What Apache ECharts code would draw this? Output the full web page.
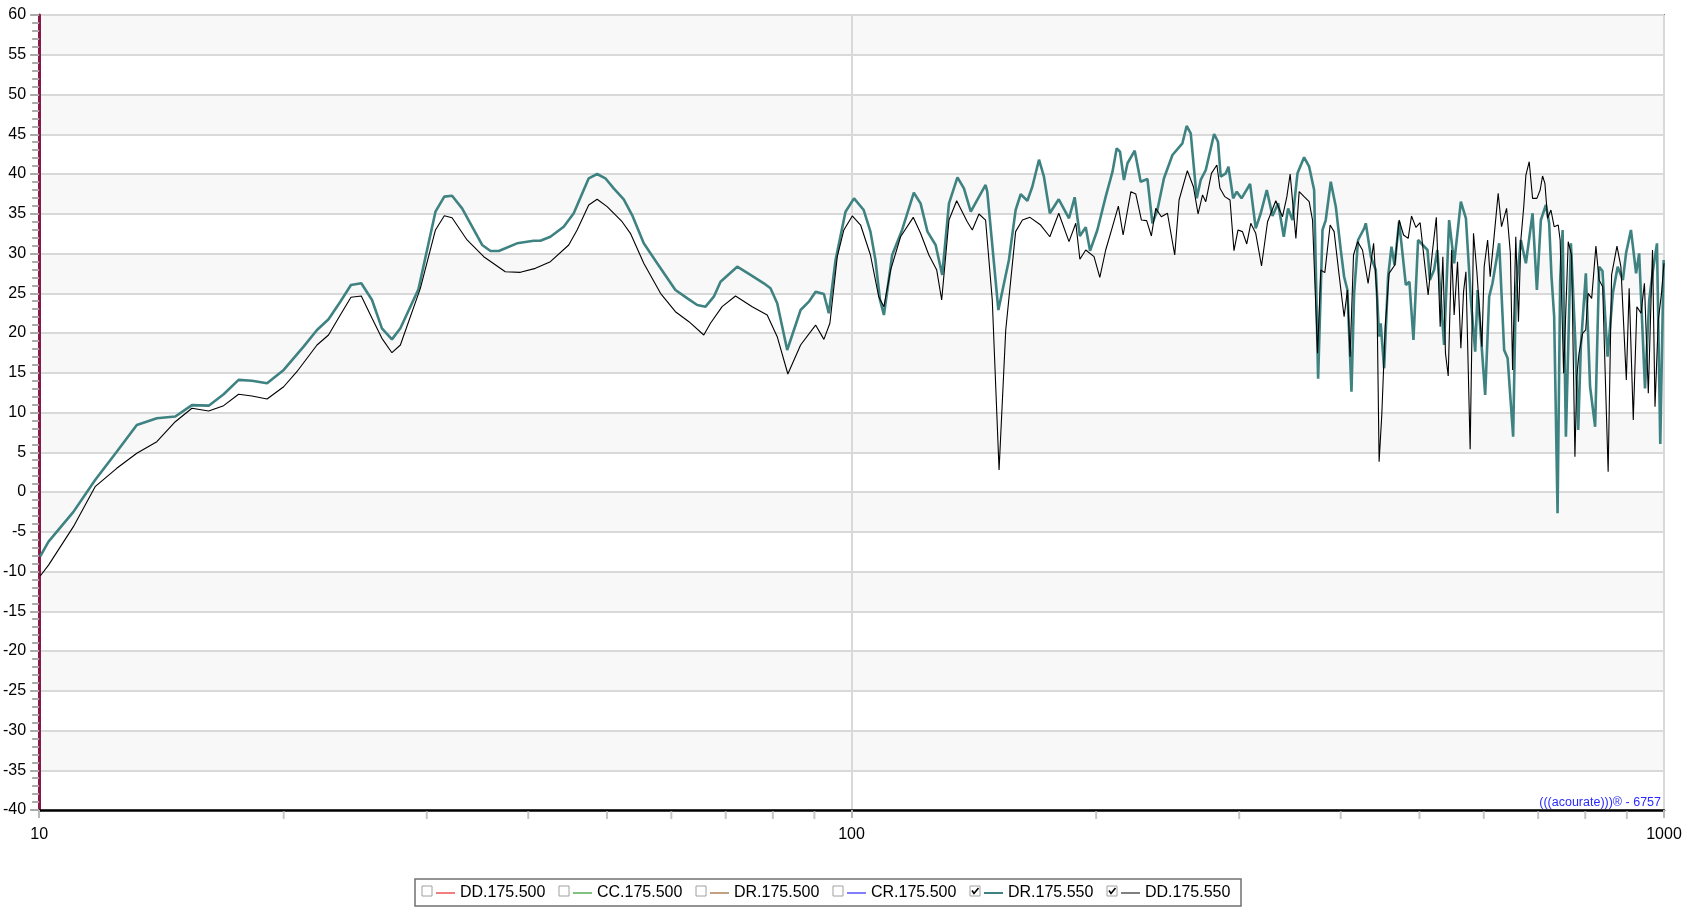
<!DOCTYPE html>
<html>
<head>
<meta charset="utf-8">
<script src="https://cdn.jsdelivr.net/npm/echarts@6/dist/echarts.min.js"></script>
<style>
html,body{margin:0;padding:0;background:#fff;}
#chart{width:1705px;height:916px;}
</style>
</head>
<body>
<div id="chart"></div>
<script>
// ---- data ----
const seriesNames = ['DD.175.500','CC.175.500','DR.175.500','CR.175.500','DR.175.550','DD.175.550'];
const seriesColors = ['#f08080','#80c080','#c0a080','#8080ff','#3f8282','#000000'];
const legendColors = ['#f08080','#80c080','#c0a080','#8080ff','#3f8282','#808080'];
const checked = [false,false,false,false,true,true];

const yTicks = [-40,60,5];
const xMinorTicks = [20,30,40,50,60,70,80,90,200,300,400,500,600,700,800,900];

// DR.175.550 (teal)
const drFreq = [10.03,10.27,11.02,11.72,12.46,13.19,13.96,14.71,15.42,16.17,16.87,17.6,18.28,19.08,20.0,21.16,21.98,22.71,23.48,24.2,24.92,25.69,26.42,27.18,27.84,29.3,30.75,31.53,32.23,33.16,35.1,35.94,36.79,38.75,40.62,41.4,42.59,44.23,45.5,47.48,48.62,49.77,50.96,52.43,53.69,55.49,57.64,60.7,62.8,64.57,66.11,67.68,68.98,72.32,75.1,77.98,79.47,81.0,83.33,86.55,88.61,90.31,92.46,93.76,95.57,98.3,100.7,103.5,105.5,107.0,108.4,109.6,112.2,115.4,119.3,121.6,124.0,126.9,129.3,131.8,135.0,137.5,140.2,146.2,146.9,151.6,156.2,159.2,161.5,164.6,166.9,170.1,172.5,175.4,179.9,185.2,188.2,191.0,194.2,196.6,200.7,205.5,209.5,212.0,214.0,216.4,218.6,223.1,226.9,231.3,234.6,237.9,242.4,248.3,255.4,258.5,261.5,266.0,269.0,272.9,279.4,282.5,284.7,288.8,291,294.9,297.9,302,309.4,314.4,318.9,324.4,329.7,335.0,340.4,344.6,348.9,353.9,360.6,365.8,371.0,375.2,379.9,383.4,388.9,394.5,400.1,403.9,407.7,412.4,415.5,420.2,427.5,429.5,435.7,441.8,446.0,448,452.4,457.5,461.9,466,472.0,481.1,486,491.6,498.1,511.6,515,521.2,526,536.2,543.9,551.7,562.3,570.4,578.5,585.6,589.6,602.4,609.3,615,626.8,635.7,642,652.1,657.0,666.5,676.1,689.0,697.5,705.4,715.5,722.2,727,732.5,739.6,745.1,750.2,757.3,768.1,777.6,784.2,790,801.3,811,822.7,832.1,840,852.2,865,877.0,890,898,910.6,924,932,947.6,959,968,980.3,989.5,999];
const drDb = [-8.1,-6.25,-2.5,1.5,5.07,8.43,9.27,9.5,10.93,10.86,12.29,14.1,14.0,13.67,15.35,18.28,20.38,21.72,23.94,26.04,26.25,24.15,20.59,19.2,20.59,25.5,35.26,37.15,37.27,35.68,31.07,30.31,30.31,31.28,31.61,31.61,32.11,33.37,35.06,39.46,40.0,39.46,38.2,36.82,34.84,31.28,28.77,25.41,24.36,23.52,23.31,24.57,26.45,28.34,27.3,26.25,25.62,23.74,17.86,22.89,23.94,25.2,24.9,22.48,29.18,35.26,36.94,35.47,32.75,29.18,24.15,22.26,29.81,32.96,37.65,36.31,32.75,31.07,27.3,36.31,39.58,38.2,35.26,38.62,37.78,22.89,29.18,35.47,37.45,36.64,38.4,41.8,39.66,35.06,36.82,34.43,37.07,32.2,33.29,30.35,32.96,37.15,40.29,43.23,42.8,39.25,41.35,42.93,39.03,39.37,33.8,35.47,39.46,42.39,43.86,46.04,45.12,36.94,39.25,40.5,45.03,44.06,39.66,40.08,40.92,36.94,37.78,36.94,38.74,33.17,35.06,37.99,34.72,36.31,32.11,35.68,34.21,40.08,42.1,40.92,37.99,14.26,32.96,34.21,39.03,35.89,30.44,27.08,25.41,12.62,24.99,31.7,33.17,33.8,29.6,27.92,19.54,21.22,15.56,27.08,30.86,28.55,34.0,26.04,26.45,19.12,31.7,30.44,26.67,27.92,30.44,18.49,34.21,28.77,36.52,34.43,24.15,17.65,25.4,12.2,24.57,26.25,31.28,17.86,16.82,6.96,24.99,31.7,28.77,35.06,25.41,34.21,36.1,33.8,27.08,22.05,-2.68,26.67,32.96,6.96,31.28,19.12,7.8,18.28,27.5,13.24,8.21,28.34,27.8,17.02,24.99,28.34,26.67,30.02,32.96,27.5,30.02,13.04,24.15,27.5,31.28,6.04,29.18];

// DD.175.550 (black)
const ddFreq = [10.03,10.27,11.02,11.72,12.46,13.19,13.96,14.71,15.42,16.17,16.87,17.6,18.28,19.08,20.0,20.76,21.98,22.71,23.48,24.2,24.92,25.69,26.42,27.18,27.84,29.46,30.75,31.53,32.23,33.63,35.26,37.48,39.12,40.82,42.59,44.86,45.94,47.48,48.62,50.02,52.19,53.43,55.49,58.19,60.7,63.07,65.78,67.04,69.29,71.97,75.46,78.73,81.0,83.48,86.55,90.31,92.46,94.04,96.03,97.84,100.2,102.6,105.5,108.0,109.6,111.7,114.9,119.1,121.6,124.5,127.3,129.1,131.8,134.7,138.8,140.8,143.5,146.2,149.0,151.9,154.8,159.2,162.3,165.8,170.9,175.4,179.9,185.2,188.8,191.0,194.2,198.8,202.1,205.5,209.5,213.0,215.9,220.7,223.8,227.4,230.8,233.9,236.8,240.6,244.8,249.9,253.0,259.0,263.5,267.0,270.4,272.9,277.3,281.6,284.1,288,292.3,295.6,299,302.8,306.5,310,314.4,319.6,325.1,332.8,339.2,343.4,346.6,352.3,355.6,360.6,365.8,369.3,374.6,378.1,382.4,388.2,392.6,398.2,403.9,407.7,410.8,414.8,419.6,425.5,432.3,439.1,443.3,446.0,449.4,453.8,458.8,466.3,472.0,478,484.3,488.9,495,501,512.5,519,524.5,530.3,534.3,538.3,542.5,547.7,551.7,557,562.3,566.6,570.4,577.3,582.8,588.4,596.9,600.7,606.6,611,617,625.0,631,640.1,647,651.1,657,662,666.5,672,676.1,682.5,689,697.5,704,708.8,713.5,719,725.8,732.5,741,745,752.4,762.3,769.5,776.9,781,786,794,801,806.6,814.7,824.5,832,840.5,846,853.6,862,875.2,885,898.7,906,916.6,926,937,946,956.5,968,974.8,984,993,1000];
const ddDb = [-10.57,-9.2,-4.36,0.67,2.98,4.87,6.33,8.84,10.53,10.19,10.86,12.29,12.08,11.7,13.24,15.13,18.49,19.75,22.26,24.49,24.65,21.85,19.33,17.52,18.49,25.62,32.96,34.75,34.5,31.7,29.6,27.71,27.63,28.13,28.97,31.07,32.96,36.1,36.82,35.89,34.0,32.54,28.77,24.99,22.68,21.42,19.75,21.22,23.31,24.65,23.31,22.26,19.54,14.84,18.49,21.0,19.2,21.22,29.6,32.96,34.72,33.58,29.81,24.57,23.31,27.92,32.11,34.55,32.54,29.81,27.92,24.15,34.21,36.64,34.0,32.96,34.97,34.21,24.15,2.77,20.38,32.75,34.21,34.55,33.58,32.11,35.06,31.49,33.8,29.27,30.44,29.6,27.0,30.44,33.37,35.97,32.33,37.78,37.48,34.21,34.13,32.2,35.68,34.63,35.06,29.81,36.73,40.42,38.4,34.97,37.36,36.52,40.08,41.13,38.2,37.15,36.73,30.35,32.96,32.75,31.2,33.8,32.54,28.43,34.0,36.64,34.63,37.15,40.0,31.9,37.78,37.15,36.52,34.21,17.45,27.92,27.59,33.58,32.75,27.3,22.05,25.41,17.02,29.81,31.49,30.44,26.25,31.28,24.57,3.81,9.69,20.79,27.5,28.55,34.21,32.33,31.9,34.72,33.29,33.87,24.78,30.44,34.55,20.79,29.6,17.45,14.59,30.44,22.26,28.97,18.07,25.2,27.71,5.37,32.54,27.71,18.28,28.34,31.7,27.08,31.49,37.57,33.37,35.68,30.02,15.35,32.11,21.42,31.7,35.89,39.87,41.55,36.94,36.94,37.99,39.75,38.83,34.43,35.47,33.37,33.58,31.7,14.93,31.49,29.81,4.44,14.51,17.45,19.96,20.38,24.99,24.36,30.94,26.67,25.83,15.77,2.56,27.3,30.94,28.34,14.09,25.62,9.06,23.31,22.48,26.25,12.41,30.44,10.73,21.64,24.99,28.77];

const watermark = '(((acourate)))\u00AE - 6757';

// ---- chart ----
function pairs(xs, ys){ return xs.map((x,i)=>[x, ys[i]]); }

const FONT = "'Liberation Sans', Arial, sans-serif";
const chart = echarts.init(document.getElementById('chart'), null, {renderer:'canvas'});

const series = [];
for (let i = 0; i < 4; i++) {
  series.push({name: seriesNames[i], type:'line', data: [], showSymbol:false,
    color: seriesColors[i], lineStyle:{color: seriesColors[i]}});
}
series.push({name: seriesNames[4], type:'line', data: pairs(drFreq, drDb), showSymbol:false,
  symbol:'none', color: seriesColors[4], lineStyle:{color: seriesColors[4], width:2.6}, z:3, animation:false});
series.push({name: seriesNames[5], type:'line', data: pairs(ddFreq, ddDb), showSymbol:false,
  symbol:'none', color: seriesColors[5], lineStyle:{color: seriesColors[5], width:1.1}, z:4, animation:false});
// minor x ticks below the axis (20..90, 200..900)
series.push({type:'scatter', data: xMinorTicks.map(f=>[f, yTicks[0]]), symbol:'rect',
  symbolSize:[2,8], symbolOffset:[0,5], clip:false, silent:true, z:1,
  itemStyle:{color:'#b8b8b8'}, animation:false});

const legendLeft = [436,573,710,847,984,1121];
const legends = seriesNames.map((n,i)=>({
  left: legendLeft[i], top: 885, padding:0, itemWidth:19, itemHeight:2, icon:'rect',
  selectedMode:false,
  textStyle:{fontSize:16, color:'#000', fontFamily:FONT},
  data:[{name:n, itemStyle:{color: legendColors[i]}}]
}));

const graphics = [];
graphics.push({type:'rect', z:100, shape:{x:415, y:879, width:826, height:27},
  style:{fill:'none', stroke:'#707070', lineWidth:1.5}, silent:true});
legendLeft.forEach((lx,i)=>{
  const bx = lx - 14, by = 886;
  graphics.push({type:'rect', z:100, shape:{x:bx, y:by, width:10, height:10},
    style:{fill:'#fff', stroke:'#a0a0a0', lineWidth:1}, silent:true});
  if (checked[i]) {
    graphics.push({type:'polyline', z:101, shape:{points:[[bx+2,by+4.5],[bx+4,by+7.5],[bx+8.5,by+2]]},
      style:{stroke:'#000', lineWidth:1.6, fill:null}, silent:true});
  }
});
graphics.push({type:'text', z:100, x:1661, y:803,
  style:{text: watermark, fill:'#2a2aff', font: "12.5px " + FONT, textAlign:'right', textVerticalAlign:'middle', align:'right', verticalAlign:'middle'}, silent:true});

chart.setOption({
  animation:false,
  backgroundColor:'#ffffff',
  grid:{left:39, right:41, top:15, bottom:106, show:true, borderColor:'#858585', borderWidth:2, backgroundColor:'transparent'},
  xAxis:{type:'log', logBase:10, min:10, max:1000,
    axisLine:{show:true, onZero:false, lineStyle:{color:'#000', width:2.5}},
    axisTick:{show:true, length:8, lineStyle:{color:'#b8b8b8', width:2}},
    axisLabel:{show:true, margin:17, fontSize:16, color:'#000', fontFamily:FONT,
      formatter:v=>String(Math.round(v))},
    splitLine:{show:true, lineStyle:{color:'#d9d9d9', width:2}},
    minorTick:{show:false}, minorSplitLine:{show:false}
  },
  yAxis:{type:'value', min:yTicks[0], max:yTicks[1], interval:yTicks[2],
    axisLine:{show:true, onZero:false, lineStyle:{color:'#8a1846', width:3}},
    axisTick:{show:true, length:9, lineStyle:{color:'#aaaaaa', width:2}},
    minorTick:{show:true, splitNumber:5, length:7, lineStyle:{color:'#aaaaaa', width:2}},
    axisLabel:{show:true, margin:13, fontSize:16, color:'#000', fontFamily:FONT},
    splitLine:{show:true, lineStyle:{color:'#d9d9d9', width:2}},
    splitArea:{show:true, areaStyle:{color:['#ffffff','#f8f8f8']}}
  },
  legend: legends,
  graphic: graphics,
  series: series
});
</script>
</body>
</html>
